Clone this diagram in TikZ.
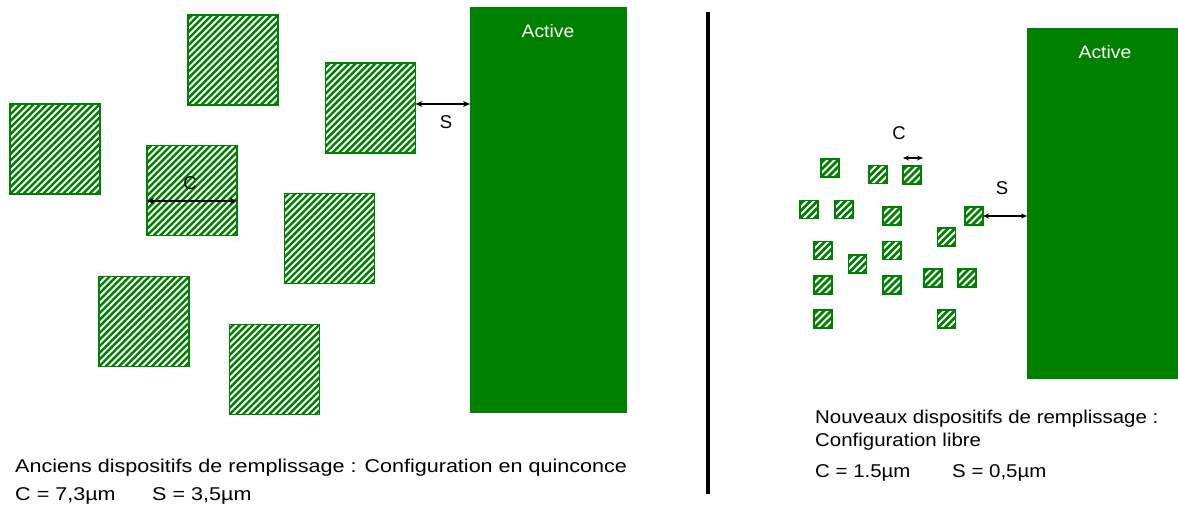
\documentclass[tikz,border=0pt]{standalone}
\usepackage{fontspec}
\setmainfont{Liberation Sans}
\usetikzlibrary{arrows.meta}
\definecolor{hgreen}{HTML}{008000}
\tikzset{
  x=1pt, y=-1pt,
  hatchsq/.style n args={3}{draw=hgreen, line width=1.3pt, inner sep=0pt, outer sep=0pt,
    minimum size=#1, fill=white,
    path picture={\foreach \i in {-16,...,16}{\draw[hgreen,line width=#3]
      ([xshift=\i*#2]path picture bounding box.south west) -- ++(120pt,120pt);}}},
  bigsq/.style={hatchsq={90}{6.6pt}{2.4pt}},
  smallsq/.style={hatchsq={18}{7pt}{2.6pt}},
  activebox/.style={fill=hgreen, draw=none, inner sep=0pt, outer sep=0pt},
  activelbl/.style={text=white, font=\fontsize{18}{20}\selectfont, xscale=1.08, transform shape},
  lbl/.style={font=\fontsize{18.5}{21}\selectfont, inner sep=0pt},
  txtL/.style={font=\fontsize{18.5}{21}\selectfont, inner sep=0pt, anchor=base west, xscale=1.165, transform shape},
  txtR/.style={font=\fontsize{18.5}{21}\selectfont, inner sep=0pt, anchor=base west, xscale=1.105, transform shape},
  dim/.style={{Stealth[length=7pt,width=6pt]}-{Stealth[length=7pt,width=6pt]}, line width=1.2pt},
  dimr/.style={{Stealth[length=6pt,width=5pt]}-{Stealth[length=6pt,width=5pt]}, line width=1.2pt},
}
\begin{document}
\begin{tikzpicture}
\useasboundingbox (0,0) rectangle (1178,516);
% left active
\node[activebox, minimum width=157, minimum height=406] (actL) at (548.5,210) {};
\node[activelbl] (actLt) at (548,31) {Active};
% left squares
\node[bigsq] (a1) at (233,60) {};
\node[bigsq] (a2) at (370.5,108) {};
\node[bigsq] (a3) at (55,149) {};
\node[bigsq] (a4) at (192,190.5) {};
\node[bigsq] (a5) at (329.5,238.5) {};
\node[bigsq] (a6) at (144,321.5) {};
\node[bigsq] (a7) at (274.5,369.5) {};
% left dimensions
\draw[dim] ([yshift=-10.5pt]a4.west) -- ([yshift=-10.5pt]a4.east);
\node[lbl] (cL) at (190,183) {C};
\draw[dim] ([yshift=4pt]a2.east) -- ([yshift=4pt]a2.east -| actL.west);
\node[lbl] (sL) at (446,122) {S};
% separator
\coordinate (sepT) at (708,12);
\coordinate (sepB) at (708,494);
\draw[line width=4.5pt] (sepT) -- (sepB);
% right active
\node[activebox, minimum width=151, minimum height=351] (actR) at (1102.5,203.5) {};
\node[activelbl] (actRt) at (1105,52) {Active};
% right small squares
\foreach \n/\x/\y in {b1/830/168, b2/878/174.5, b3/912/175, b4/809/209.5, b5/844/209.5,
  b6/892/216, b7/974/216, b8/946.5/237, b9/823/250.5, b10/892/250.5, b11/857.5/264,
  b12/823/285, b13/892/285, b14/933/278, b15/967/278, b16/823/319, b17/946.5/319}
  \node[smallsq] (\n) at (\x,\y) {};
\draw[dimr] ([yshift=8pt]b3.north west) -- ([yshift=8pt,xshift=2pt]b3.north east);
\node[lbl] (cR) at (899,133) {C};
\draw[dimr] (b7.east) -- (b7.east -| actR.west);
\node[lbl] (sR) at (1002,188) {S};
% texts
\node[txtL] (t1) at (15,472) {Anciens dispositifs de remplissage : Configuration en quinconce};
\node[txtL] (t2) at (15,500) {C = 7,3µm};
\node[txtL] (t3) at (152,500) {S = 3,5µm};
\node[txtR] (t4) at (815,423) {Nouveaux dispositifs de remplissage :};
\node[txtR] (t5) at (815,446) {Configuration libre};
\node[txtR] (t6) at (815,477) {C = 1.5µm};
\node[txtR] (t7) at (952,477) {S = 0,5µm};
\end{tikzpicture}
\end{document}
